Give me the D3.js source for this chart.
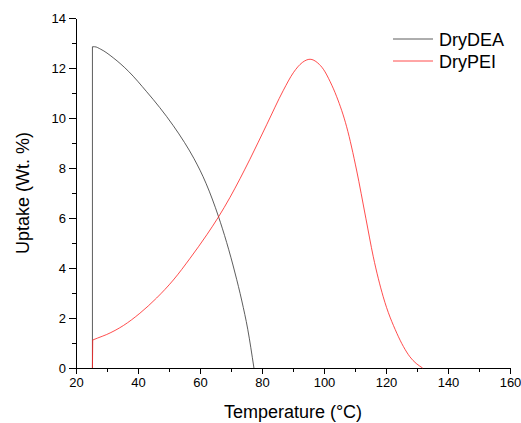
<!DOCTYPE html>
<html>
<head>
<meta charset="utf-8">
<script src="https://cdn.jsdelivr.net/npm/d3@7"></script>
<style>
  body { margin: 0; background: #fff; }
  svg { font-family: Arial, "Liberation Sans", sans-serif; }
  .axis path, .axis line { stroke: #000; stroke-width: 1; shape-rendering: crispEdges; }
  .axis text { font-size: 13px; fill: #000; }
</style>
</head>
<body>
<svg id="chart" width="521" height="423"></svg>
<script>
// values
var deaT = [25.3, 25.3, 26, 28, 32, 37, 42.8, 47, 51.4, 55, 58, 62, 65.9, 68.6, 71.3, 73.5, 75.4, 77.4];
var deaU = [0, 12.85, 12.85, 12.75, 12.41, 11.86, 11.05, 10.42, 9.69, 9.02, 8.39, 7.37, 6.08, 5.02, 3.8, 2.68, 1.55, 0];

var peiT = [25.3, 25.4, 27, 29.9, 35.3, 40.6, 46, 51.4, 56.8, 62.2, 65.9, 69.7, 72.9, 76.1, 81.5, 86.9, 90.1, 93, 95.5, 98, 99.8, 102, 104.1, 107.3, 110.5, 113.5, 115.9, 119.1, 123.5, 127.7, 131.8];
var peiU = [0, 1.12, 1.2, 1.34, 1.7, 2.19, 2.8, 3.52, 4.39, 5.33, 6.03, 6.83, 7.57, 8.35, 9.73, 11.11, 11.81, 12.22, 12.35, 12.2, 11.95, 11.45, 10.85, 9.65, 7.92, 5.99, 4.45, 2.85, 1.39, 0.45, 0];

var xTicks = [20, 40, 60, 80, 100, 120, 140, 160];
var yTicks = [0, 2, 4, 6, 8, 10, 12, 14];
var seriesNames = ["DryDEA", "DryPEI"];
var seriesColors = ["#333333", "#ff2020"];

var margin = {top: 18, left: 76},
    width = 434,
    height = 350;

var svg = d3.select("#chart");
var g = svg.append("g").attr("transform", "translate(" + margin.left + "," + margin.top + ")");

var x = d3.scaleLinear().domain([20, 160]).range([0, width]);
var y = d3.scaleLinear().domain([0, 14]).range([height, 0]);

// minor ticks first
g.append("g")
    .attr("class", "axis")
    .attr("transform", "translate(0," + height + ")")
    .call(d3.axisBottom(x).tickValues(d3.range(30, 160, 20)).tickSize(3.5).tickFormat(""))
    .call(function(a) { a.select(".domain").remove(); });
g.append("g")
    .attr("class", "axis")
    .call(d3.axisLeft(y).tickValues(d3.range(1, 14, 2)).tickSize(4).tickFormat(""))
    .call(function(a) { a.select(".domain").remove(); });

g.append("g")
    .attr("class", "axis")
    .attr("transform", "translate(0," + height + ")")
    .call(d3.axisBottom(x).tickValues(xTicks).tickSize(6).tickSizeOuter(0).tickPadding(4));
g.append("g")
    .attr("class", "axis")
    .call(d3.axisLeft(y).tickValues(yTicks).tickSize(7).tickSizeOuter(0).tickPadding(3));

// the first two points of each run form the vertical jump, the rest is a smooth curve
var jump = d3.line()
    .x(function(d) { return x(d[0]); })
    .y(function(d) { return y(d[1]); });
var curve = d3.line()
    .x(function(d) { return x(d[0]); })
    .y(function(d) { return y(d[1]); })
    .curve(d3.curveMonotoneX);

var series = [
    d3.zip(deaT, deaU),
    d3.zip(peiT, peiU)
];

series.forEach(function(s, i) {
    g.append("path")
        .attr("fill", "none")
        .attr("stroke", seriesColors[i])
        .attr("stroke-width", 0.8)
        .attr("d", jump(s.slice(0, 2)) + curve(s.slice(1)).replace(/^M/, "L"));
});

// legend
var legend = svg.append("g").attr("transform", "translate(393,39)");
seriesNames.forEach(function(name, i) {
    var row = legend.append("g").attr("transform", "translate(0," + (i * 22) + ")");
    row.append("line")
        .attr("x1", 0).attr("x2", 40)
        .attr("y1", 0).attr("y2", 0)
        .attr("stroke", seriesColors[i])
        .attr("stroke-width", 0.8);
    row.append("text")
        .attr("x", 46).attr("y", 6.5)
        .attr("font-size", "18px")
        .text(name);
});

// axis titles
svg.append("text")
    .attr("x", margin.left + x(90))
    .attr("y", 418)
    .attr("text-anchor", "middle")
    .attr("font-size", "18px")
    .text("Temperature (°C)");

svg.append("text")
    .attr("transform", "translate(29," + (margin.top + y(7)) + ") rotate(-90)")
    .attr("text-anchor", "middle")
    .attr("font-size", "18px")
    .text("Uptake (Wt. %)");
</script>
</body>
</html>
